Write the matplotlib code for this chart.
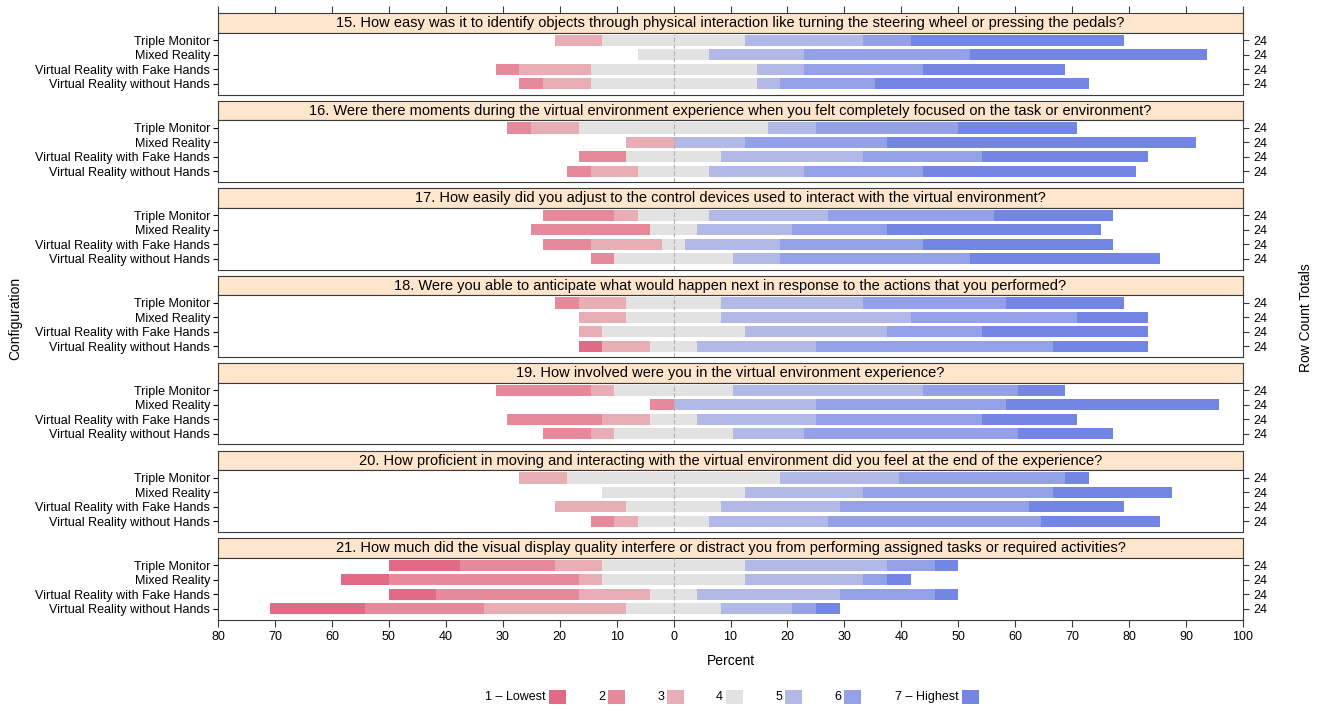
import numpy as np
import matplotlib
matplotlib.use('Agg')
import matplotlib.pyplot as plt
from matplotlib.patches import Rectangle

plt.rcParams['font.family'] = ['Liberation Sans', 'DejaVu Sans']

# Survey answers, counts per level 1..7 for each configuration
configs = ['Triple Monitor', 'Mixed Reality', 'Virtual Reality with Fake Hands', 'Virtual Reality without Hands']
levels = ['1 \u2013 Lowest', '2', '3', '4', '5', '6', '7 \u2013 Highest']
colors = ['#E26A86', '#E68A9B', '#E9ADB6', '#E2E2E2', '#B2B9E6', '#95A1E6', '#7386E3']

titles = [
    '15. How easy was it to identify objects through physical interaction like turning the steering wheel or pressing the pedals?',
    '16. Were there moments during the virtual environment experience when you felt completely focused on the task or environment?',
    '17. How easily did you adjust to the control devices used to interact with the virtual environment?',
    '18. Were you able to anticipate what would happen next in response to the actions that you performed?',
    '19. How involved were you in the virtual environment experience?',
    '20. How proficient in moving and interacting with the virtual environment did you feel at the end of the experience?',
    '21. How much did the visual display quality interfere or distract you from performing assigned tasks or required activities?',
]

q15 = [[0, 0, 2, 6, 5, 2, 9], [0, 0, 0, 3, 4, 7, 10], [0, 1, 3, 7, 2, 5, 6], [0, 1, 2, 7, 1, 4, 9]]
q16 = [[0, 1, 2, 8, 2, 6, 5], [0, 0, 2, 0, 3, 6, 13], [0, 2, 0, 4, 6, 5, 7], [0, 1, 2, 3, 4, 5, 9]]
q17 = [[0, 3, 1, 3, 5, 7, 5], [0, 5, 0, 2, 4, 4, 9], [0, 2, 3, 1, 4, 6, 8], [0, 1, 0, 5, 2, 8, 8]]
q18 = [[0, 1, 2, 4, 6, 6, 5], [0, 0, 2, 4, 8, 7, 3], [0, 0, 1, 6, 6, 4, 7], [1, 0, 2, 2, 5, 10, 4]]
q19 = [[0, 4, 1, 5, 8, 4, 2], [0, 1, 0, 0, 6, 8, 9], [0, 4, 2, 2, 5, 7, 4], [0, 2, 1, 5, 3, 9, 4]]
q20 = [[0, 0, 2, 9, 5, 7, 1], [0, 0, 0, 6, 5, 8, 5], [0, 0, 3, 4, 5, 8, 4], [0, 1, 1, 3, 5, 9, 5]]
q21 = [[3, 4, 2, 6, 6, 2, 1], [2, 8, 1, 6, 5, 1, 1], [2, 6, 3, 2, 6, 4, 1], [4, 5, 6, 4, 3, 1, 1]]
questions = [q15, q16, q17, q18, q19, q20, q21]

xticks = np.arange(-80, 101, 10)

W, H = 1324, 711
fig = plt.figure(figsize=(W / 100, H / 100), dpi=100)


def px_axes(x0, y0, w, h):
    return fig.add_axes([x0 / W, 1 - (y0 + h) / H, w / W, h / H])


X0, X1 = 218, 1243
frame = '#3a3a3a'
ypos = np.arange(1, len(configs) + 1)

for i, (title, counts) in enumerate(zip(titles, questions)):
    top = 13 + 87.5 * i
    # strip with the question text
    sax = px_axes(X0, top, X1 - X0, 19.5)
    sax.set_facecolor('#FFE5CC')
    sax.set_xlim(-80, 100)
    sax.set_ylim(0, 1)
    sax.set_yticks([])
    sax.text(0.5, 0.48, title, transform=sax.transAxes, ha='center', va='center', fontsize=10.5)
    for s in sax.spines.values():
        s.set_color(frame)
    if i == 0:
        sax.set_xticks(xticks)
        sax.tick_params(axis='x', bottom=False, top=True, labelbottom=False, labeltop=False,
                        length=5, color=frame)
    else:
        sax.set_xticks([])

    # stacked diverging bars
    ax = px_axes(X0, top + 19.5, X1 - X0, 62)
    cnt = np.array(counts, dtype=float)
    totals = cnt.sum(axis=1)
    p = cnt / totals[:, None] * 100
    ax.axvline(0, color='#b0b0b0', lw=0.8, ls=(0, (4, 2)), zorder=3)
    for r, y in enumerate(ypos):
        ax.barh(y, p[r, 3], left=-p[r, 3] / 2, height=0.78, color=colors[3], lw=0, zorder=2)
        x = -p[r, 3] / 2
        for k in [2, 1, 0]:
            ax.barh(y, p[r, k], left=x - p[r, k], height=0.78, color=colors[k], lw=0, zorder=2)
            x -= p[r, k]
        x = p[r, 3] / 2
        for k in [4, 5, 6]:
            ax.barh(y, p[r, k], left=x, height=0.78, color=colors[k], lw=0, zorder=2)
            x += p[r, k]
    ax.set_xlim(-80, 100)
    ax.set_ylim(4.75, 0.45)
    ax.set_yticks(ypos)
    ax.set_yticklabels(configs, fontsize=9)
    ax.tick_params(axis='y', left=False, pad=2)
    for s in ax.spines.values():
        s.set_color(frame)
    if i == len(questions) - 1:
        ax.set_xticks(xticks)
        ax.set_xticklabels([str(abs(v)) for v in xticks], fontsize=9)
        ax.tick_params(axis='x', length=5, color=frame, pad=3)
    else:
        ax.set_xticks([])

    # row totals on the right
    ax2 = ax.twinx()
    ax2.set_ylim(4.75, 0.45)
    ax2.set_yticks(ypos)
    ax2.set_yticklabels([str(int(t)) for t in totals], fontsize=9)
    ax2.tick_params(axis='y', length=4.5, color=frame, pad=3)
    for s in ax2.spines.values():
        s.set_visible(False)

fig.text((X0 + X1) / 2 / W, 1 - 661 / H, 'Percent', ha='center', va='center', fontsize=10)
fig.text(15 / W, 1 - 318 / H, 'Configuration', ha='center', va='center', rotation=90, fontsize=10)
fig.text(1306 / W, 1 - 318 / H, 'Row Count Totals', ha='center', va='center', rotation=90, fontsize=10)

# legend: label to the left of each key
for k, (lab, col) in enumerate(zip(levels, colors)):
    bx = 549 + 59 * k if k < 6 else 962
    fig.patches.append(Rectangle((bx / W, 1 - 704 / H), 17 / W, 14 / H, transform=fig.transFigure,
                                 facecolor=col, edgecolor='none'))
    fig.text((bx - 3) / W, 1 - 697 / H, lab, ha='right', va='center', fontsize=9)

fig.savefig('out.png', dpi=100)
